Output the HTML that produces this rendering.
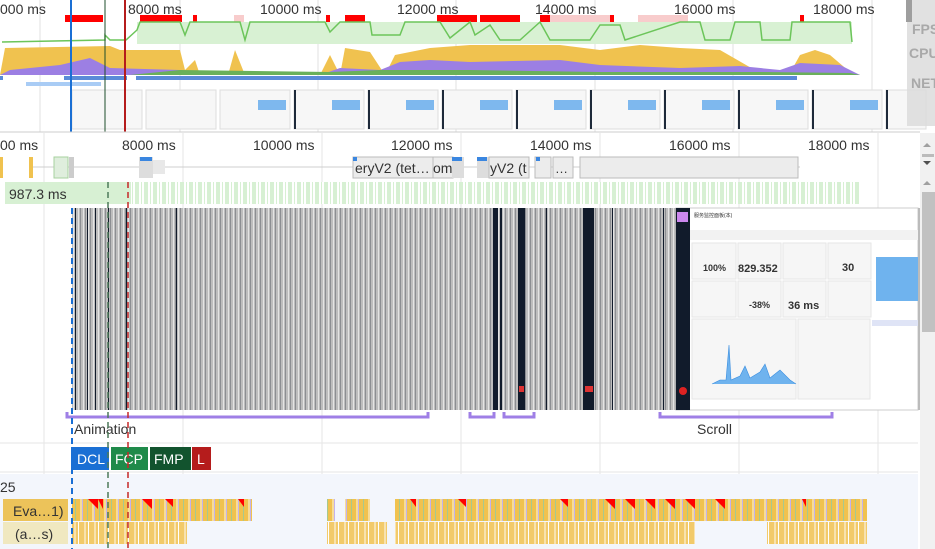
<!DOCTYPE html>
<html><head><meta charset="utf-8"><style>
html,body{margin:0;padding:0;background:#fff;width:935px;height:549px;overflow:hidden}
svg{display:block;font-family:"Liberation Sans","Noto Sans CJK SC",sans-serif}
</style></head><body>
<svg width="935" height="549" viewBox="0 0 935 549" xmlns="http://www.w3.org/2000/svg">
<defs>
<pattern id="gs" width="5" height="10" patternUnits="userSpaceOnUse">
<rect width="5" height="10" fill="#bdbdbd"/><rect x="0" width="1" height="10" fill="#8c8e92"/><rect x="3" width="1" height="10" fill="#e4e4e4"/></pattern>
<pattern id="fg" width="9" height="10" patternUnits="userSpaceOnUse">
<rect width="9" height="10" fill="#fff"/><rect x="0" width="4" height="10" fill="#d7f0d3"/><rect x="6" width="1" height="10" fill="#d7f0d3"/></pattern>
<pattern id="ev" width="12" height="20" patternUnits="userSpaceOnUse">
<rect width="12" height="20" fill="#f0c24f"/><rect x="3" width="1" height="20" fill="#a6c98f"/><rect x="8" width="2" height="20" fill="#f7dc99"/><rect x="10" width="1" height="20" fill="#c3b3ec"/></pattern>
<pattern id="ev2" width="10" height="20" patternUnits="userSpaceOnUse">
<rect width="10" height="20" fill="#f2ca6a"/><rect x="4" width="2" height="20" fill="#f8e2ae"/><rect x="8" width="1" height="20" fill="#fff"/></pattern>
</defs>
<g stroke="#e2e2e2" stroke-width="1">
<line x1="40" y1="0" x2="40" y2="132"/><line x1="180" y1="0" x2="180" y2="132"/><line x1="318" y1="0" x2="318" y2="132"/><line x1="456" y1="0" x2="456" y2="132"/><line x1="595" y1="0" x2="595" y2="132"/><line x1="733" y1="0" x2="733" y2="132"/><line x1="872" y1="0" x2="872" y2="132"/>
</g>
<g font-size="14" fill="#333">
<text x="0" y="14">000 ms</text><text x="128" y="14">8000 ms</text><text x="260" y="14">10000 ms</text><text x="397" y="14">12000 ms</text><text x="535" y="14">14000 ms</text><text x="674" y="14">16000 ms</text><text x="813" y="14">18000 ms</text>
</g>
<g fill="#f00">
<rect x="65" y="15" width="38" height="7"/><rect x="140" y="15" width="42" height="7"/><rect x="193" y="15" width="4" height="7"/><rect x="326" y="15" width="4" height="7"/><rect x="345" y="15" width="20" height="7"/><rect x="437" y="15" width="40" height="7"/><rect x="480" y="15" width="40" height="7"/><rect x="540" y="15" width="40" height="7"/><rect x="608" y="15" width="6" height="7"/><rect x="655" y="15" width="20" height="7"/><rect x="800" y="15" width="4" height="7"/>
</g>
<g fill="#f8cccc"><rect x="234" y="15" width="10" height="7"/><rect x="550" y="15" width="60" height="7"/><rect x="638" y="15" width="50" height="7"/></g>
<rect x="137" y="22" width="715" height="22" fill="#d8f1d3"/>
<polyline fill="none" stroke="#6cc55a" stroke-width="1.5" points="2,42 105,40 105,35 110,40 126,40 137,30 140,22 180,22 185,35 190,22 240,22 245,40 250,22 325,22 330,32 340,22 370,22 372,35 400,35 405,22 440,22 450,38 470,22 475,35 490,25 500,40 520,40 540,22 550,40 590,40 600,25 620,25 625,40 680,22 700,22 705,40 730,40 735,22 760,22 762,40 790,40 792,22 850,22 852,42"/>
<path d="M0,75 L5,48 L110,46 L120,50 L180,50 L185,70 L195,60 L200,75 L228,75 L235,50 L245,75 L320,75 L330,55 L340,75 L345,48 L370,52 L385,75 L395,55 L430,48 L470,45 L560,45 L600,50 L640,45 L680,48 L720,50 L760,73 L790,73 L800,55 L815,50 L830,55 L850,72 L860,75 Z" fill="#f0c24f"/>
<path d="M0,75 L10,70 L60,65 L90,58 L110,68 L180,70 L200,75 L320,75 L340,68 L380,70 L400,62 L430,60 L470,62 L560,60 L600,65 L680,68 L740,66 L780,70 L800,63 L840,65 L860,75 Z" fill="#9c7fe3"/>
<path d="M130,75 L180,70 L330,72 L380,70 L470,70 L600,72 L760,72 L850,73 L860,75 Z" fill="#6ab05a"/>
<rect x="0" y="76" width="3" height="4" fill="#5a8bd8"/><rect x="64" y="76" width="63" height="4" fill="#5a8bd8"/><rect x="136" y="76" width="661" height="4" fill="#5a8bd8"/><rect x="26" y="82" width="75" height="4" fill="#a9ccf5"/>
<g fill="#f7f7f7" stroke="#ddd">
<rect x="72" y="90" width="70" height="39"/><rect x="146" y="90" width="70" height="39"/><rect x="220" y="90" width="70" height="39"/><rect x="294" y="90" width="70" height="39"/><rect x="368" y="90" width="70" height="39"/><rect x="442" y="90" width="70" height="39"/><rect x="516" y="90" width="70" height="39"/><rect x="590" y="90" width="70" height="39"/><rect x="664" y="90" width="70" height="39"/><rect x="738" y="90" width="70" height="39"/><rect x="812" y="90" width="70" height="39"/><rect x="886" y="90" width="40" height="39"/>
</g>
<g fill="#7eb8ee"><rect x="258" y="100" width="28" height="10"/><rect x="332" y="100" width="28" height="10"/><rect x="406" y="100" width="28" height="10"/><rect x="480" y="100" width="28" height="10"/><rect x="554" y="100" width="28" height="10"/><rect x="628" y="100" width="28" height="10"/><rect x="702" y="100" width="28" height="10"/><rect x="776" y="100" width="28" height="10"/><rect x="850" y="100" width="28" height="10"/></g>
<g fill="#1e2a3a"><rect x="294" y="90" width="2" height="39"/><rect x="368" y="90" width="2" height="39"/><rect x="442" y="90" width="2" height="39"/><rect x="516" y="90" width="2" height="39"/><rect x="590" y="90" width="2" height="39"/><rect x="664" y="90" width="2" height="39"/><rect x="738" y="90" width="2" height="39"/><rect x="812" y="90" width="2" height="39"/><rect x="886" y="90" width="2" height="39"/></g>
<line x1="71" y1="0" x2="71" y2="132" stroke="#1a6fd4" stroke-width="2"/>
<line x1="105" y1="0" x2="105" y2="132" stroke="#1e4d2b" stroke-width="1"/>
<line x1="125" y1="0" x2="125" y2="132" stroke="#b51c1c" stroke-width="2"/>
<rect x="907" y="0" width="28" height="126" fill="#dcdcdc" opacity="0.85"/>
<rect x="906" y="0" width="6" height="22" fill="#9e9e9e"/>
<g font-size="14" font-weight="bold" fill="#a9a9a9"><text x="912" y="34">FPS</text><text x="909" y="58">CPU</text><text x="911" y="88">NET</text></g>
<line x1="0" y1="132" x2="920" y2="132" stroke="#ccc"/>
<g stroke="#e4e4e4"><line x1="44" y1="133" x2="44" y2="549"/><line x1="183" y1="133" x2="183" y2="549"/><line x1="322" y1="133" x2="322" y2="549"/><line x1="461" y1="133" x2="461" y2="549"/><line x1="600" y1="133" x2="600" y2="549"/><line x1="739" y1="133" x2="739" y2="549"/><line x1="878" y1="133" x2="878" y2="549"/></g>
<g font-size="14" fill="#333">
<text x="0" y="150">00 ms</text><text x="122" y="150">8000 ms</text><text x="253" y="150">10000 ms</text><text x="391" y="150">12000 ms</text><text x="530" y="150">14000 ms</text><text x="669" y="150">16000 ms</text><text x="808" y="150">18000 ms</text>
</g>
<line x1="33" y1="167" x2="800" y2="167" stroke="#cfcfcf"/>
<rect x="0" y="157" width="3" height="21" fill="#f0c24f"/><rect x="29" y="157" width="4" height="21" fill="#f0c24f"/>
<rect x="54" y="157" width="14" height="21" fill="#dfeedd" stroke="#a7d19f"/><rect x="69" y="157" width="5" height="21" fill="#ccc"/>
<rect x="139" y="157" width="14" height="21" fill="#ddd"/><rect x="140" y="157" width="12" height="4" fill="#3a86e0"/><rect x="153" y="160" width="12" height="14" fill="#e8e8e8"/>
<rect x="353" y="157" width="80" height="21" fill="#ececec" stroke="#bbb"/><rect x="353" y="157" width="4" height="4" fill="#3a86e0"/>
<text x="355" y="173" font-size="14" fill="#333">eryV2 (tet…</text>
<rect x="433" y="157" width="20" height="21" fill="#ececec" stroke="#bbb"/><text x="433" y="173" font-size="14" fill="#333">om</text>
<rect x="452" y="157" width="12" height="21" fill="#ddd"/><rect x="452" y="157" width="10" height="4" fill="#3a86e0"/>
<rect x="477" y="157" width="12" height="21" fill="#ddd"/><rect x="477" y="157" width="10" height="4" fill="#3a86e0"/>
<rect x="489" y="157" width="40" height="21" fill="#ececec" stroke="#bbb"/><text x="490" y="173" font-size="14" fill="#333">yV2 (t</text>
<rect x="535" y="157" width="16" height="21" fill="#ececec" stroke="#bbb"/><rect x="536" y="157" width="4" height="4" fill="#3a86e0"/>
<rect x="553" y="157" width="20" height="21" fill="#ececec" stroke="#bbb"/><text x="555" y="173" font-size="13" fill="#333">…</text>
<rect x="580" y="157" width="218" height="21" fill="#ececec" stroke="#bbb"/>
<rect x="72" y="182" width="788" height="22" fill="url(#fg)"/>
<rect x="5" y="182" width="67" height="22" fill="#d7f0d3"/>
<rect x="74" y="182" width="34" height="22" fill="#d7f0d3"/><rect x="111" y="182" width="20" height="22" fill="#d7f0d3"/>
<text x="9" y="199" font-size="14" fill="#333">987.3 ms</text>
<rect x="72" y="208" width="604" height="202" fill="url(#gs)"/>
<g fill="#111b2b"><rect x="75" y="208" width="1" height="202"/><rect x="87" y="208" width="1" height="202"/><rect x="95" y="208" width="1" height="202"/><rect x="108" y="208" width="1" height="202"/><rect x="126" y="208" width="1" height="202"/><rect x="176" y="208" width="1" height="202"/>
<rect x="493" y="208" width="5" height="202"/><rect x="500" y="208" width="2" height="202"/><rect x="518" y="208" width="7" height="202"/><rect x="583" y="208" width="11" height="202"/><rect x="546" y="208" width="1" height="202"/><rect x="612" y="208" width="1" height="202"/><rect x="663" y="208" width="1" height="202"/></g>
<g fill="#d33"><rect x="585" y="386" width="8" height="6"/><rect x="519" y="386" width="5" height="6"/></g>
<rect x="676" y="208" width="242" height="202" fill="#fff" stroke="#ccc"/>
<rect x="676" y="208" width="14" height="202" fill="#111b2b"/>
<rect x="677" y="212" width="11" height="10" fill="#c8e"/><circle cx="683" cy="391" r="4" fill="#d22"/>
<rect x="690" y="230" width="228" height="10" fill="#f2f2f2"/>
<g fill="#f6f6f6" stroke="#e6e6e6"><rect x="692" y="243" width="44" height="36"/><rect x="738" y="243" width="43" height="36"/><rect x="783" y="243" width="43" height="36"/><rect x="828" y="243" width="43" height="36"/><rect x="692" y="281" width="44" height="36"/><rect x="738" y="281" width="43" height="36"/><rect x="783" y="281" width="43" height="36"/><rect x="828" y="281" width="43" height="36"/><rect x="692" y="319" width="104" height="80"/><rect x="798" y="319" width="72" height="80"/></g>
<text x="694" y="217" font-size="5" fill="#333">服务监控面板(本)</text>
<g font-weight="bold" fill="#333"><text x="703" y="271" font-size="9">100%</text><text x="738" y="272" font-size="11">829.352</text><text x="842" y="271" font-size="11">30</text><text x="749" y="308" font-size="9">-38%</text><text x="788" y="309" font-size="11">36 ms</text></g>
<rect x="876" y="257" width="42" height="44" fill="#6fb3ee"/>
<rect x="872" y="320" width="46" height="6" fill="#dfe4f6"/>
<polyline fill="#6fb3ee" stroke="#3a8ee0" stroke-width="0.6" points="712,384 720,380 726,380 729,345 731,380 740,376 745,366 750,378 760,372 765,364 770,378 780,370 790,380 796,384"/>
<rect x="918" y="208" width="2" height="202" fill="#bbb"/>
<g fill="none" stroke="#9f7fe6" stroke-width="3"><path d="M67,412 V417 H428 V412"/><path d="M470,412 V417 H494 V412"/><path d="M504,412 V417 H534 V412"/><path d="M660,412 V417 H832 V412"/></g>
<text x="74" y="434" font-size="14" fill="#333">Animation</text><text x="697" y="434" font-size="14" fill="#333">Scroll</text>
<line x1="0" y1="443" x2="918" y2="443" stroke="#e6e6e6"/>
<rect x="71" y="447" width="38" height="23" fill="#1a6fd4"/><text x="77" y="464" font-size="14" fill="#fff">DCL</text>
<rect x="111" y="447" width="37" height="23" fill="#1f8a4a"/><text x="115" y="464" font-size="14" fill="#fff">FCP</text>
<rect x="150" y="447" width="41" height="23" fill="#12532e"/><text x="154" y="464" font-size="14" fill="#fff">FMP</text>
<rect x="192" y="447" width="19" height="23" fill="#b51c1c"/><text x="197" y="464" font-size="14" fill="#fff">L</text>
<line x1="0" y1="472" x2="918" y2="472" stroke="#e6e6e6"/>
<rect x="0" y="474" width="918" height="75" fill="#f3f6fc"/>
<text x="0" y="492" font-size="14" fill="#333">25</text>
<rect x="3" y="499" width="65" height="22" fill="#ecc35a"/><text x="13" y="516" font-size="14" fill="#333">Eva…1)</text>
<rect x="3" y="522" width="65" height="22" fill="#f0e8c0"/><text x="15" y="539" font-size="14" fill="#333">(a…s)</text>
<rect x="72" y="499" width="180" height="22" fill="url(#ev)"/><rect x="72" y="522" width="115" height="22" fill="url(#ev2)"/>
<rect x="327" y="499" width="8" height="22" fill="url(#ev)"/><rect x="345" y="499" width="25" height="22" fill="url(#ev)"/>
<rect x="395" y="499" width="380" height="22" fill="url(#ev)"/><rect x="395" y="522" width="300" height="22" fill="url(#ev2)"/>
<rect x="327" y="522" width="60" height="22" fill="url(#ev2)"/>
<rect x="767" y="522" width="100" height="22" fill="url(#ev2)"/><rect x="767" y="499" width="100" height="22" fill="url(#ev)"/>
<g fill="#f00"><path d="M88,499h10v10z"/><path d="M98,499h5v10z"/><path d="M142,499h10v10z"/><path d="M165,499h8v8z"/><path d="M238,499h6v8z"/><path d="M410,499h6v8z"/><path d="M458,499h8v8z"/><path d="M560,499h8v8z"/><path d="M605,499h10v10z"/><path d="M625,499h10v10z"/><path d="M645,499h10v10z"/><path d="M665,499h10v10z"/><path d="M685,499h10v10z"/><path d="M715,499h10v10z"/><path d="M802,499h4v8z"/></g>
<line x1="72" y1="208" x2="72" y2="549" stroke="#1a6fd4" stroke-width="2" stroke-dasharray="6,4"/>
<line x1="108" y1="182" x2="108" y2="549" stroke="#4d7a5a" stroke-width="1.5" stroke-dasharray="6,4"/>
<line x1="128" y1="182" x2="128" y2="549" stroke="#c62828" stroke-width="1.5" stroke-dasharray="6,4"/>
<rect x="920" y="133" width="15" height="416" fill="#f1f1f1"/>
<path d="M923,147 l4,-4 l4,4z" fill="#a0a0a0"/><rect x="922" y="154" width="12" height="3" fill="#bbb"/><path d="M923,161 l4,4 l4,-4z" fill="#505050"/>
<path d="M923,185 l4,-4 l4,4z" fill="#a0a0a0"/>
<rect x="922" y="192" width="13" height="140" fill="#c1c1c1"/>
</svg>
</body></html>
